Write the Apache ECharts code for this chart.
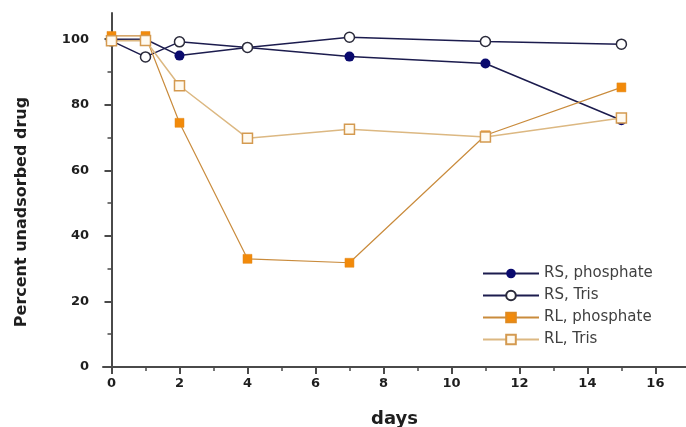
<!DOCTYPE html>
<html>
<head>
<meta charset="utf-8">
<script src="https://cdn.jsdelivr.net/npm/echarts@6/dist/echarts.min.js"></script>
<style>
  html, body { margin: 0; padding: 0; background: #fff; }
  #chart { width: 686px; height: 427px; }
</style>
</head>
<body>
<div id="chart"></div>
<script>
const days = [0, 1, 2, 4, 7, 11, 15];
const rsPhosphate = [100, 100, 95, 97.5, 94.7, 92.6, 75.3];
const rsTris = [99.5, 94.6, 99.2, 97.5, 100.6, 99.3, 98.5];
const rlPhosphate = [101, 101, 74.5, 33, 31.8, 70.7, 85.3];
const rlTris = [99.5, 99.6, 85.8, 69.8, 72.5, 70.2, 76];

const xMajor = [0, 2, 4, 6, 8, 10, 12, 14, 16];
const xMinor = [1, 3, 5, 7, 9, 11, 13, 15];
const yMajor = [0, 20, 40, 60, 80, 100];
const yMinor = [10, 30, 50, 70, 90];

const pairs = vals => days.map((d, i) => [d, vals[i]]);

const axisColor = '#4a4a4a';
const labelFont = {
  color: '#1e1e1e',
  fontFamily: 'DejaVu Sans',
  fontWeight: 'bold',
  fontSize: 13
};
const titleFont = {
  fontFamily: 'DejaVu Sans',
  fontWeight: 'bold',
  fontSize: 16,
  color: '#1e1e1e'
};

const chart = echarts.init(document.getElementById('chart'));
chart.setOption({
  animation: false,
  grid: { left: 103, right: 0, top: 13, bottom: 60, containLabel: false, outerBoundsMode: 'none' },
  legend: {
    orient: 'vertical',
    left: 477,
    top: 261,
    itemWidth: 56,
    itemHeight: 12,
    itemGap: 7,
    textStyle: { fontFamily: 'DejaVu Sans', fontSize: 15, lineHeight: 14, color: '#404040' },
    data: ['RS, phosphate', 'RS, Tris', 'RL, phosphate', 'RL, Tris']
  },
  xAxis: [
    {
      type: 'value',
      min: -0.25,
      max: 16.9,
      name: 'days',
      nameLocation: 'middle',
      nameGap: 43,
      nameTextStyle: Object.assign({}, titleFont, { fontSize: 18 }),
      splitLine: { show: false },
      axisLine: { lineStyle: { color: axisColor, width: 2 } },
      axisTick: { customValues: xMajor, length: 7, lineStyle: { color: axisColor, width: 2 } },
      axisLabel: Object.assign({ customValues: xMajor, margin: 10 }, labelFont)
    },
    {
      type: 'value',
      position: 'bottom',
      min: -0.25,
      max: 16.9,
      splitLine: { show: false },
      axisLine: { show: false },
      axisLabel: { show: false },
      axisTick: { customValues: xMinor, length: 4, lineStyle: { color: axisColor, width: 1.5 } }
    }
  ],
  yAxis: [
    {
      type: 'value',
      min: 0,
      max: 108,
      name: 'Percent unadsorbed drug',
      nameLocation: 'middle',
      nameGap: 73,
      nameTextStyle: Object.assign({}, titleFont, { padding: [0, 44, 0, 0] }),
      splitLine: { show: false },
      axisLine: { lineStyle: { color: axisColor, width: 2 } },
      axisTick: { customValues: yMajor, length: 7, lineStyle: { color: axisColor, width: 2 } },
      axisLabel: Object.assign({ customValues: yMajor, margin: 14 }, labelFont)
    },
    {
      type: 'value',
      position: 'left',
      min: 0,
      max: 108,
      splitLine: { show: false },
      axisLine: { show: false },
      axisLabel: { show: false },
      axisTick: { customValues: yMinor, length: 4, lineStyle: { color: axisColor, width: 1.5 } }
    }
  ],
  series: [
    {
      name: 'RS, phosphate',
      type: 'line',
      data: pairs(rsPhosphate),
      symbol: 'circle',
      symbolSize: 10,
      lineStyle: { color: '#1c1c4e', width: 1.5 },
      itemStyle: { color: '#0a0a6e', borderColor: '#0a0a6e', borderWidth: 0 }
    },
    {
      name: 'RS, Tris',
      type: 'line',
      data: pairs(rsTris),
      symbol: 'circle',
      symbolSize: 10,
      lineStyle: { color: '#1c1c4e', width: 1.5 },
      itemStyle: { color: '#ffffff', borderColor: '#2a2a3a', borderWidth: 1.5 }
    },
    {
      name: 'RL, phosphate',
      type: 'line',
      data: pairs(rlPhosphate),
      symbol: 'rect',
      symbolSize: 9,
      lineStyle: { color: '#c98b3c', width: 1.2 },
      itemStyle: { color: '#f28a0a', borderColor: '#e08a20', borderWidth: 0.5 }
    },
    {
      name: 'RL, Tris',
      type: 'line',
      data: pairs(rlTris),
      symbol: 'rect',
      symbolSize: 10,
      lineStyle: { color: '#dcb882', width: 1.5 },
      itemStyle: { color: '#fffaf0', borderColor: '#d49a50', borderWidth: 1.5 }
    }
  ]
});
</script>
</body>
</html>
